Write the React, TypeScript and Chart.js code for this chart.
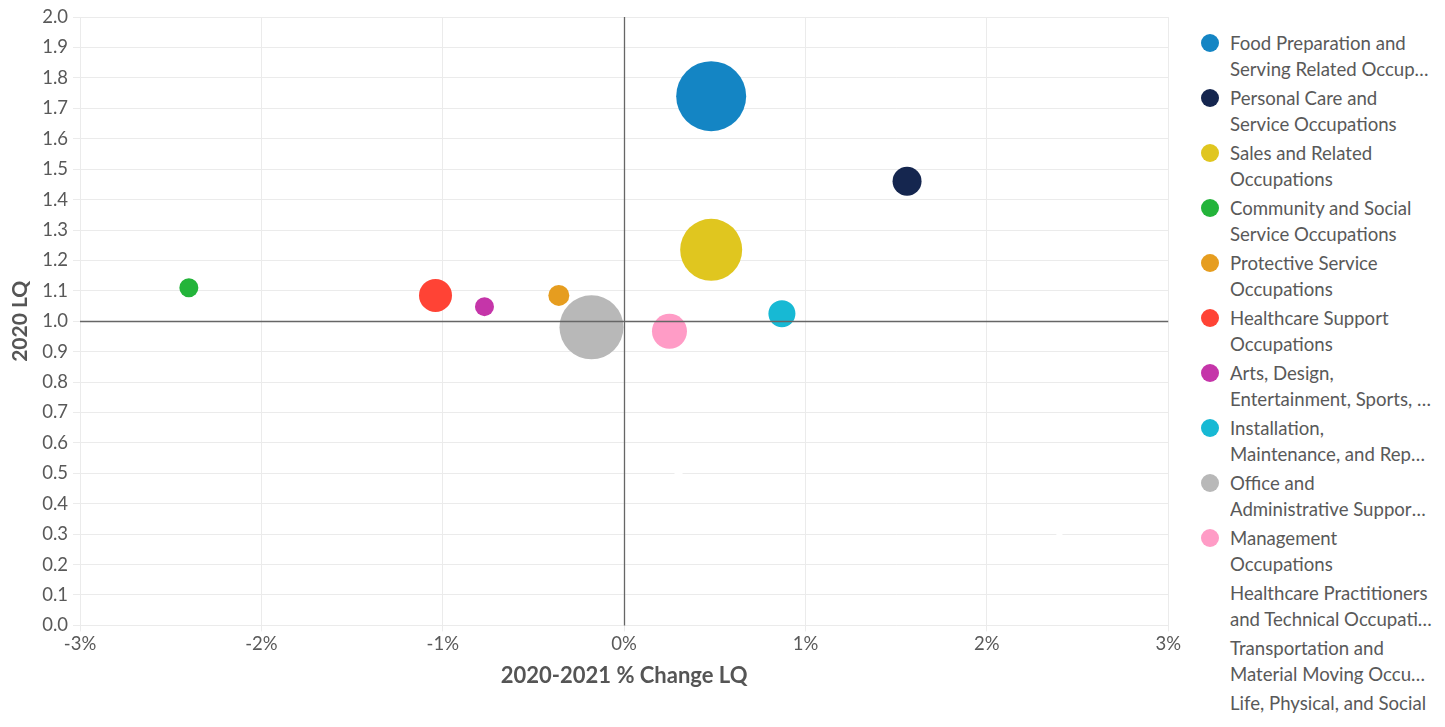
import React, { useEffect, useRef } from "react";
import { Chart, registerables } from "chart.js";

Chart.register(...registerables);

const categories = [
  "Food Preparation and Serving Related Occupations",
  "Personal Care and Service Occupations",
  "Sales and Related Occupations",
  "Community and Social Service Occupations",
  "Protective Service Occupations",
  "Healthcare Support Occupations",
  "Arts, Design, Entertainment, Sports, and Media Occupations",
  "Installation, Maintenance, and Repair Occupations",
  "Office and Administrative Support Occupations",
  "Management Occupations",
  "Healthcare Practitioners and Technical Occupations",
  "Transportation and Material Moving Occupations",
  "Life, Physical, and Social Science Occupations",
];

// 2020-2021 % change in LQ
const changeLQ = [0.48, 1.56, 0.48, -2.4, -0.36, -1.04, -0.77, 0.87, -0.18, 0.25, -0.34, 0.3, 2.4];
// 2020 LQ
const lq2020 = [1.74, 1.46, 1.235, 1.11, 1.085, 1.085, 1.048, 1.025, 0.98, 0.967, 0.75, 0.5, 0.3];
// bubble radius (employment size)
const bubbleSize = [35, 14.5, 31, 9.5, 10.5, 16.5, 9.5, 13.5, 32, 17.5, 4, 4, 3];

const colors = [
  "#1485c4",
  "#15264f",
  "#e0c61f",
  "#23b43a",
  "#e69d1f",
  "#ff4335",
  "#c535a9",
  "#17b9d4",
  "#b8b8b8",
  "#ff9cc6",
  "#ffffff",
  "#ffffff",
  "#ffffff",
];

const yTicks = [0, 0.1, 0.2, 0.3, 0.4, 0.5, 0.6, 0.7, 0.8, 0.9, 1, 1.1, 1.2, 1.3, 1.4, 1.5, 1.6, 1.7, 1.8, 1.9, 2];
const xTicks = [-3, -2, -1, 0, 1, 2, 3];

const FONT = "Lato, 'Open Sans', sans-serif";
const TEXT = "#595959";
const LEGEND_FONT_SIZE = 18.6;
const LEGEND_TEXT_W = 202;

let measureCtx: CanvasRenderingContext2D | null = null;
function wrapTwo(text: string): [string, string] {
  if (!measureCtx) measureCtx = document.createElement("canvas").getContext("2d");
  const ctx = measureCtx!;
  ctx.font = `${LEGEND_FONT_SIZE}px ${FONT}`;
  const words = text.split(" ");
  let first = "";
  let i = 0;
  for (; i < words.length; i++) {
    const cand = first ? first + " " + words[i] : words[i];
    if (ctx.measureText(cand).width > LEGEND_TEXT_W && first) break;
    first = cand;
  }
  return [first, words.slice(i).join(" ")];
}

const refLines = {
  id: "refLines",
  afterDatasetsDraw(chart: any) {
    const { ctx, chartArea, scales } = chart;
    const x0 = scales.x.getPixelForValue(0);
    const y1 = scales.y.getPixelForValue(1);
    ctx.save();
    ctx.strokeStyle = "#666666";
    ctx.lineWidth = 1.3;
    ctx.beginPath();
    ctx.moveTo(Math.round(x0) + 0.5, chartArea.top);
    ctx.lineTo(Math.round(x0) + 0.5, chartArea.bottom);
    ctx.moveTo(chartArea.left, Math.round(y1) + 0.5);
    ctx.lineTo(chartArea.right, Math.round(y1) + 0.5);
    ctx.stroke();
    ctx.restore();
  },
};

export default function App() {
  const ref = useRef<HTMLCanvasElement>(null);

  useEffect(() => {
    document.documentElement.style.overflow = "hidden";
    const datasets = categories.map((c, i) => ({
      label: c,
      data: [{ x: changeLQ[i], y: lq2020[i], r: bubbleSize[i] }],
      backgroundColor: colors[i],
      borderColor: colors[i],
      borderWidth: 0,
      hoverBorderWidth: 0,
    }));
    const chart = new Chart(ref.current!, {
      type: "bubble",
      data: { datasets },
      options: {
        animation: false,
        responsive: true,
        maintainAspectRatio: false,
        layout: { autoPadding: false, padding: { left: 0, right: 0, top: 2, bottom: 0 } },
        plugins: { legend: { display: false }, tooltip: { enabled: false } },
        scales: {
          x: {
            type: "linear",
            min: -3,
            max: 3,
            afterBuildTicks: (s: any) => {
              s.ticks = xTicks.map((v) => ({ value: v }));
            },
            ticks: {
              color: TEXT,
              font: { family: FONT, size: 18.5 },
              padding: 2,
              callback: (v: any) => `${v}%`,
            },
            grid: { color: "#ebebeb", lineWidth: 1, tickLength: 6 },
            border: { display: false },
            title: {
              display: true,
              text: "2020-2021 % Change LQ",
              color: "#555555",
              font: { family: FONT, size: 22, weight: "bold" },
              padding: { top: 5, bottom: 0 },
            },
          },
          y: {
            type: "linear",
            min: 0,
            max: 2,
            afterBuildTicks: (s: any) => {
              s.ticks = yTicks.map((v) => ({ value: v }));
            },
            ticks: {
              color: TEXT,
              font: { family: FONT, size: 18.5 },
              padding: 5,
              callback: (v: any) => Number(v).toFixed(1),
            },
            grid: { color: "#ebebeb", lineWidth: 1, tickLength: 7 },
            border: { display: false },
            title: {
              display: true,
              text: "2020 LQ",
              color: "#555555",
              font: { family: FONT, size: 21, weight: "bold" },
              padding: { top: 0, bottom: 4 },
            },
          },
        },
      },
      plugins: [refLines],
    });
    return () => chart.destroy();
  }, []);

  return (
    <div style={{ position: "relative", width: 1429, height: 711 }}>
      <div style={{ position: "absolute", left: 0, top: -7, width: 1175, height: 688 }}>
        <canvas ref={ref} />
      </div>
      <div
        style={{
          position: "absolute",
          left: 1193,
          top: 22,
          width: 240,
          fontFamily: FONT,
          fontSize: LEGEND_FONT_SIZE,
          color: TEXT,
        }}
      >
        {categories.map((c, i) => {
          const [l1, l2] = wrapTwo(c);
          return (
            <div key={c} style={{ display: "flex", alignItems: "flex-start", marginBottom: 3 }}>
              <span
                style={{
                  flex: "0 0 auto",
                  width: 18,
                  height: 18,
                  borderRadius: "50%",
                  background: colors[i],
                  marginTop: 4,
                  marginRight: 11,
                }}
              />
              <div style={{ width: LEGEND_TEXT_W, lineHeight: "26px" }}>
                <div style={{ whiteSpace: "nowrap" }}>{l1}</div>
                {l2 ? (
                  <div style={{ whiteSpace: "nowrap", overflow: "hidden", textOverflow: "ellipsis" }}>{l2}</div>
                ) : null}
              </div>
            </div>
          );
        })}
      </div>
    </div>
  );
}
